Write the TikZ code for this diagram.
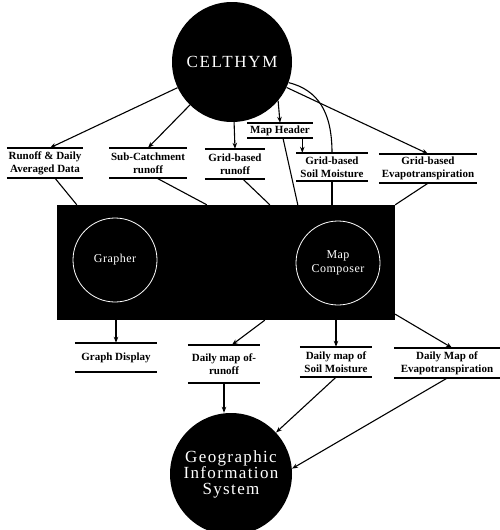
\documentclass[tikz,border=0pt]{standalone}
\usepackage{fontspec}
\setmainfont{Liberation Serif}
\usetikzlibrary{arrows.meta}

\tikzset{
  rule/.style={draw, line width=1.9pt},
  lbl/.style={font=\bfseries\fontsize{11}{13}\selectfont, align=center, inner sep=1pt, minimum height=30pt,
    append after command={(\tikzlastnode.north west) edge[rule] (\tikzlastnode.north east)
      (\tikzlastnode.south west) edge[rule] (\tikzlastnode.south east)}},
  conn/.style={draw, line width=1.1pt},
  tip/.style={conn, -{Stealth[length=6pt,width=4.5pt]}},
  blob/.style={circle, fill=black, text=white, inner sep=0pt},
  tool/.style={circle, draw=white, line width=0.8pt, fill=black, text=white, minimum size=84pt,
    align=center, font=\fontsize{12}{14}\selectfont\addfontfeatures{LetterSpace=4}}
}

\begin{document}
\begin{tikzpicture}[x=1pt,y=-1pt]
  \useasboundingbox (0,0) rectangle (500,530);

  % Model and GIS
  \node[blob, minimum size=120pt, font=\fontsize{17}{18}\selectfont\addfontfeatures{LetterSpace=10}] (celt) at (232,62) {CELTHYM};
  \node[blob, minimum size=122pt, align=center, font=\fontsize{17}{16}\selectfont\addfontfeatures{LetterSpace=8}] (gis) at (231,474) {Geographic\\Information\\System};

  % Interface with its two tools
  \node[fill=black, minimum width=338pt, minimum height=115pt, inner sep=0pt] (eng) at (226,262.5) {};
  \node[tool] (graph) at (115,260) {Grapher};
  \node[tool] (comp) at (338,263) {Map\\Composer};

  % Model outputs
  \node[lbl, minimum width=76pt] (rdad) at (45,163) {Runoff \& Daily\\Averaged Data};
  \node[lbl, minimum width=77pt] (subc) at (148,163) {Sub-Catchment\\runoff};
  \node[lbl, minimum width=60pt] (gridr) at (235,164) {Grid-based\\runoff};
  \node[lbl, minimum width=65pt, minimum height=15pt] (maph) at (280,130.5) {Map Header};
  \node[lbl, minimum width=71pt, minimum height=28pt] (grids) at (332,167) {Grid-based\\Soil Moisture};
  \node[lbl, minimum width=98pt, minimum height=29pt] (gride) at (428,168.5) {Grid-based\\Evapotranspiration};

  % Interface products
  \node[lbl, minimum width=82pt, minimum height=29pt] (gdisp) at (116,357.5) {Graph Display};
  \node[lbl, minimum width=72pt, minimum height=38pt] (dmr) at (224,364) {Daily map of-\\runoff};
  \node[lbl, minimum width=72pt] (dms) at (336,362) {Daily map of\\Soil Moisture};
  \node[lbl, minimum width=105pt] (dme) at (447,363) {Daily Map of\\Evapotranspiration};

  % CELTHYM to outputs
  \draw[tip] (celt) -- ([xshift=5pt]rdad.north);
  \draw[tip] (celt) -- (subc.north);
  \draw[tip] (celt) -- (gridr.north);
  \draw[tip] (celt.-40) -- (maph.north);
  \draw[conn] (celt.-20) .. controls (318,90) and (332,112) .. (grids.north);
  \coordinate (smtop) at ([xshift=6pt]grids.north west);
  \draw[tip] (smtop |- maph.south) -- (smtop);
  \draw[tip] (celt.-25) -- (gride.north);

  % outputs into the interface
  \draw[conn] ([xshift=10pt]rdad.south) -- ([xshift=20pt]eng.north west);
  \draw[conn] ([xshift=9pt]subc.south) -- ([xshift=150pt]eng.north west);
  \draw[conn] ([xshift=8pt]gridr.south) -- ([xshift=213pt]eng.north west);
  \draw[conn] ([xshift=3pt]maph.south) -- ([xshift=241pt]eng.north west);
  \draw[conn] (grids.south) -- (grids.south |- eng.north);
  \draw[conn] (gride.south) -- (eng.north east);

  % interface to products
  \draw[tip] (gdisp.north |- eng.south) -- (gdisp.north);
  \draw[tip] ([xshift=208pt]eng.south west) -- ([xshift=8pt]dmr.north);
  \draw[tip] (dms.north |- eng.south) -- (dms.north);
  \draw[tip] ([yshift=6pt]eng.south east) -- ([xshift=5pt]dme.north);

  % products to GIS
  \draw[tip] (dmr.south) -- (dmr.south |- gis.north);
  \draw[tip] (dms.south) -- (gis);
  \draw[tip] (dme.south) -- (gis.5);
\end{tikzpicture}
\end{document}
